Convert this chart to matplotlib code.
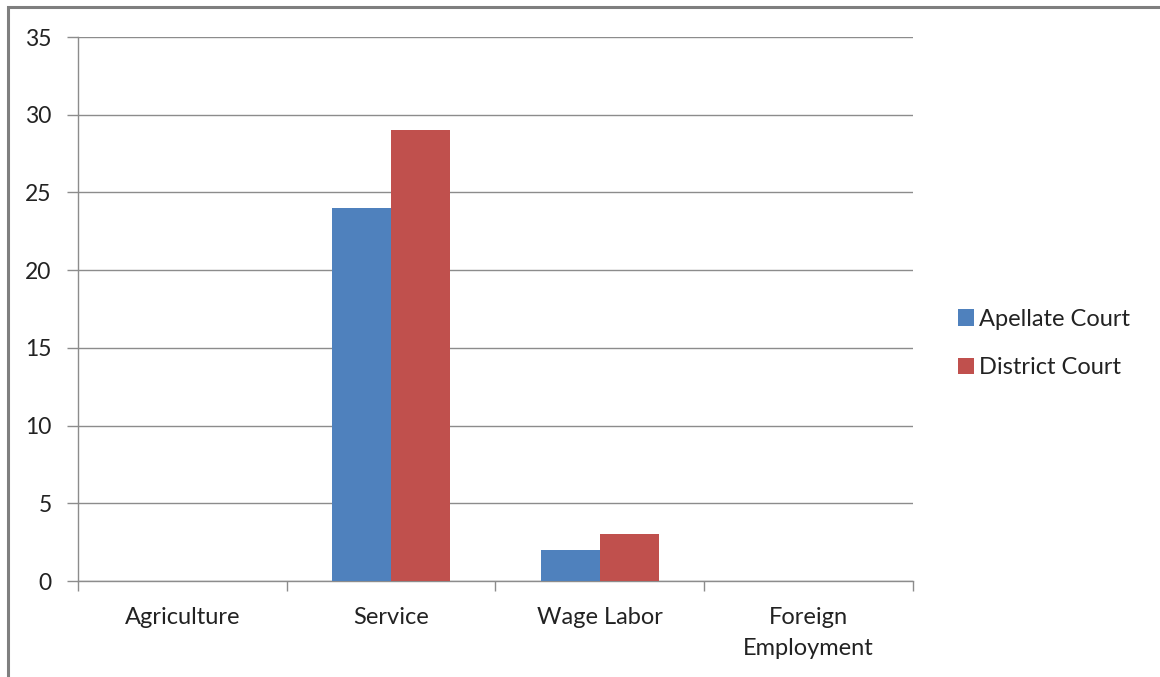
import numpy as np
import matplotlib.pyplot as plt
from matplotlib.patches import Rectangle

categories = ['Agriculture', 'Service', 'Wage Labor', 'Foreign\nEmployment']
apellate = [0, 24, 2, 0]
district = [0, 29, 3, 0]
series_names = ['Apellate Court', 'District Court']

plt.rcParams['font.family'] = ['Lato', 'DejaVu Sans']

fig = plt.figure(figsize=(11.6, 6.77), dpi=100)
ax = fig.add_axes([0.0672, 0.1418, 0.7198, 0.8035])

# outer chart frame, only left and top edges fall inside the image
fig.patches.append(Rectangle((8 / 1160, -0.1), 1.2, 1 - 7 / 677 + 0.1,
                             transform=fig.transFigure, fill=False,
                             edgecolor='#7f7f7f', linewidth=2.2))

x = np.arange(len(categories))
w = 0.283
grid_c = '#8c8c8c'
fs = 17
ax.bar(x - w / 2, apellate, w, color='#4F81BD', label=series_names[0], zorder=3)
ax.bar(x + w / 2, district, w, color='#C0504D', label=series_names[1], zorder=3)

ax.set_xlim(-0.5, len(categories) - 0.5)
ax.set_ylim(0, 35)
ax.set_yticks(np.arange(0, 36, 5))
ax.yaxis.grid(True, color=grid_c, linewidth=1)
ax.set_axisbelow(True)

ax.set_xticks(x)
ax.set_xticklabels(categories, fontsize=fs, color='#222222', linespacing=1.55)
ax.set_xticks(np.arange(-0.5, len(categories), 1), minor=True)
ax.tick_params(axis='x', which='major', length=0, pad=19)
ax.tick_params(axis='x', which='minor', length=7, color=grid_c, width=1)
ax.tick_params(axis='y', length=8, color=grid_c, width=1, labelsize=16.5,
               labelcolor='#222222', pad=11)

for side in ['top', 'right']:
    ax.spines[side].set_visible(False)
for side in ['left', 'bottom']:
    ax.spines[side].set_color(grid_c)
    ax.spines[side].set_linewidth(1)

fig.legend(loc='center left', bbox_to_anchor=(0.826, 0.4926), frameon=False,
           fontsize=fs, handlelength=0.65, handleheight=0.7,
           handletextpad=0.25, labelspacing=1.15, labelcolor='#222222',
           borderpad=0, borderaxespad=0)

fig.savefig('out.png', dpi=100)
